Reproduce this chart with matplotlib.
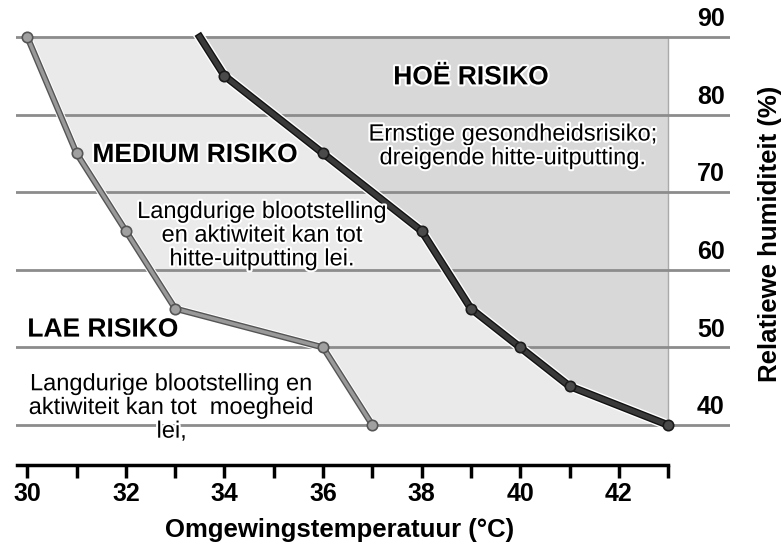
import matplotlib
matplotlib.use("Agg")
import matplotlib.pyplot as plt
import matplotlib.patheffects as pe

plt.rcParams["font.family"] = ["Liberation Sans", "DejaVu Sans"]

# grens tussen lae en medium risiko
low_temp = [30, 31, 32, 33, 36, 37]
low_hum = [90, 75, 65, 55, 50, 40]

# grens tussen medium en hoe risiko
high_temp = [33.5, 34, 36, 37, 38, 39, 40, 41, 43]
high_hum = [90, 85, 75, 70, 65, 55, 50, 45, 40]
high_marks = [1, 2, 4, 5, 6, 7, 8]

hum_ticks = [40, 50, 60, 70, 80, 90]
temp_ticks = [30, 32, 34, 36, 38, 40, 42]

fig = plt.figure(figsize=(7.84, 5.44), dpi=100)
ax = fig.add_axes([0.0204, 0.1452, 0.911, 0.8548])
ax.set_xlim(29.77, 44.26)
ax.set_ylim(34.85, 94.77)

# vlakke
ax.fill(high_temp + [43], high_hum + [90], color="#d8d8d8", zorder=1)
ax.fill(low_temp + high_temp[::-1], low_hum + high_hum[::-1], color="#eaeaea", zorder=1)
ax.plot([43, 43], [40, 90], color="#aaaaaa", lw=1, zorder=2)

for h in hum_ticks:
    ax.axhline(h, color="#8c8c8c", lw=2, zorder=2)
    ax.text(43.87, h + 2.3, str(h), ha="center", va="center",
            fontsize=18, fontweight="bold", zorder=5)

# lyne, met merkers apart sodat die rand nie opblaas nie
ax.plot(low_temp, low_hum, color="#999999", lw=2.5, zorder=3,
        path_effects=[pe.Stroke(linewidth=6, foreground="white"),
                      pe.Stroke(linewidth=4.5, foreground="#555555"), pe.Normal()])
ax.plot(low_temp, low_hum, ls="none", marker="o", ms=7.5,
        mfc="#a0a0a0", mec="#555555", mew=1.2, zorder=4)
ax.plot(high_temp, high_hum, color="#3a3a3a", lw=3.5, zorder=3,
        path_effects=[pe.Stroke(linewidth=7.5, foreground="white"),
                      pe.Stroke(linewidth=5.5, foreground="#111111"), pe.Normal()])
ax.plot(high_temp, high_hum, ls="none", marker="o", ms=7.5, markevery=high_marks,
        mfc="#4a4a4a", mec="#1a1a1a", mew=1.2, zorder=4)

halo = [pe.withStroke(linewidth=3, foreground="white")]
ax.text(39.0, 84.8, "HOË RISIKO", ha="center", va="center",
        fontsize=19, fontweight="bold", zorder=5, path_effects=halo)
ax.text(31.32, 74.8, "MEDIUM RISIKO", ha="left", va="center",
        fontsize=19, fontweight="bold", zorder=5, path_effects=halo)
ax.text(30.0, 52.3, "LAE RISIKO", ha="left", va="center",
        fontsize=19, fontweight="bold", zorder=5, path_effects=halo)

ax.text(39.86, 75.9, "Ernstige gesondheidsrisiko;\ndreigende hitte-uitputting.",
        ha="center", va="center", fontsize=17, linespacing=1.1, zorder=5,
        path_effects=halo)
ax.text(34.77, 64.4, "Langdurige blootstelling\nen aktiwiteit kan tot\nhitte-uitputting lei.",
        ha="center", va="center", fontsize=17, linespacing=1.1, zorder=5,
        path_effects=halo)
ax.text(32.93, 42.2, "Langdurige blootstelling en\naktiwiteit kan tot  moegheid\nlei,",
        ha="center", va="center", fontsize=17, linespacing=1.1, zorder=5,
        path_effects=halo)

for s in ["left", "right", "top"]:
    ax.spines[s].set_visible(False)
ax.spines["bottom"].set_linewidth(2.5)
ax.spines["bottom"].set_bounds(29.8, 43)
ax.set_xticks(range(30, 44))
ax.set_xticklabels([str(t) if t in temp_ticks else "" for t in range(30, 44)],
                   fontsize=18, fontweight="bold")
ax.tick_params(axis="x", length=9, width=2.5, pad=3)
ax.set_yticks([])

fig.text(340 / 784, 1 - 530 / 544, "Omgewingstemperatuur (°C)", ha="center", va="center",
         fontsize=18.5, fontweight="bold")
fig.text(770 / 784, 1 - 234 / 544, "Relatiewe humiditeit (%)", ha="center", va="center",
         rotation=90, fontsize=18.5, fontweight="bold")

fig.savefig("out.png", dpi=100, facecolor="white")
